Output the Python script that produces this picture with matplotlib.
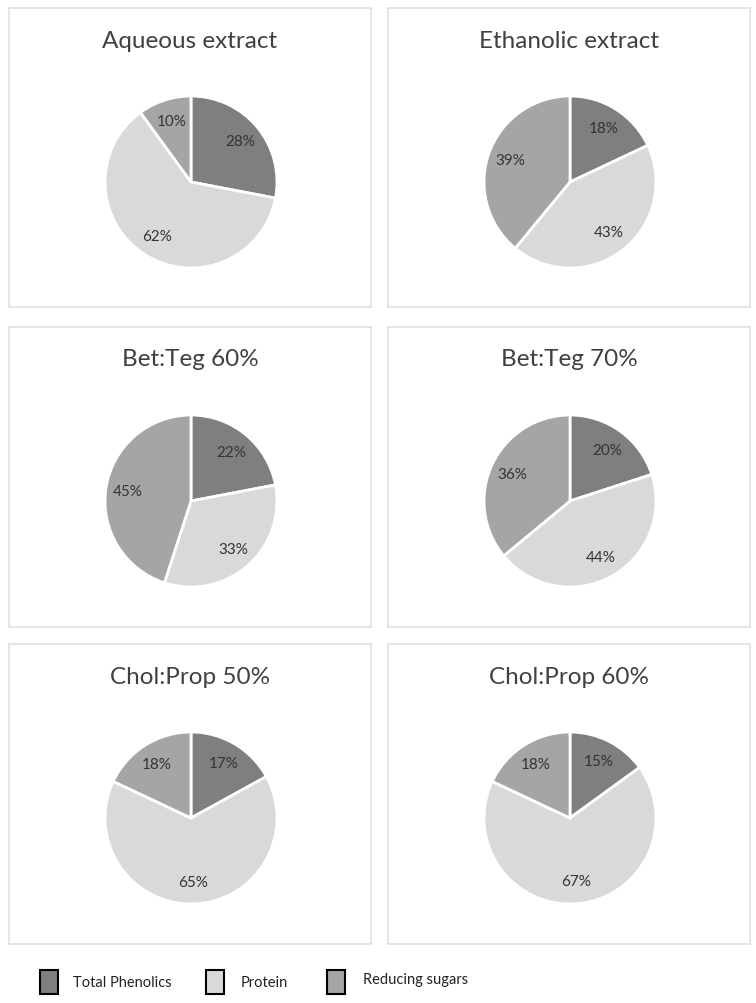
import matplotlib.pyplot as plt
from matplotlib.patches import Rectangle

# data
components = ['Total Phenolics', 'Protein', 'Reducing sugars']
titles = ['Aqueous extract', 'Ethanolic extract',
          'Bet:Teg 60%', 'Bet:Teg 70%',
          'Chol:Prop 50%', 'Chol:Prop 60%']
aqueous = [28, 62, 10]
ethanolic = [18, 43, 39]
betteg60 = [22, 33, 45]
betteg70 = [20, 44, 36]
cholprop50 = [17, 65, 18]
cholprop60 = [15, 67, 18]
shares = [aqueous, ethanolic, betteg60, betteg70, cholprop50, cholprop60]

colors = ['#7f7f7f', '#d9d9d9', '#a5a5a5']

plt.rcParams['font.family'] = ['Lato', 'DejaVu Sans']

W, H = 756, 1004
fig = plt.figure(figsize=(W / 100, H / 100), dpi=100)

# panel boxes in pixels (left, top, right, bottom)
cols = [(9, 371), (388, 750)]
rows = [(9, 308), (328, 628), (645, 945)]
R = 86


def add_panel(i, values, title):
    x0, x1 = cols[i % 2]
    y0, y1 = rows[i // 2]
    w, h = x1 - x0, y1 - y0
    ax = fig.add_axes([x0 / W, 1 - y1 / H, w / W, h / H])
    ax.pie(values, colors=colors, startangle=90, counterclock=False,
           center=(w / 2 + 1, h - 174), radius=R, frame=True,
           autopct='%d%%', pctdistance=0.74,
           wedgeprops=dict(edgecolor='white', linewidth=2),
           textprops=dict(color='#333333', fontsize=11))
    ax.set_xlim(0, w)
    ax.set_ylim(0, h)
    ax.set_aspect('auto')
    ax.set_xticks([])
    ax.set_yticks([])
    for s in ax.spines.values():
        s.set_color('#e0e0e0')
        s.set_linewidth(1.2)
    ax.text(w / 2, h - 32, title, ha='center', va='center',
            fontsize=17.5, color='#404040')


for i in range(6):
    add_panel(i, shares[i], titles[i])

# legend drawn along the bottom
leg_boxes = [(40, 971), (206, 971), (327, 971)]
leg_text_x = [73, 241, 363]
leg_text_y = [983, 983, 980]
for (bx, by), tx, ty, c, name in zip(leg_boxes, leg_text_x, leg_text_y,
                                     colors, components):
    fig.patches.append(Rectangle((bx / W, 1 - (by + 24) / H), 18 / W, 24 / H,
                                 facecolor=c, edgecolor='black', linewidth=1.5,
                                 transform=fig.transFigure, figure=fig))
    fig.text(tx / W, 1 - ty / H, name, ha='left', va='center',
             fontsize=10.5, color='#222222')

fig.savefig('out.png', dpi=100, facecolor='white')
